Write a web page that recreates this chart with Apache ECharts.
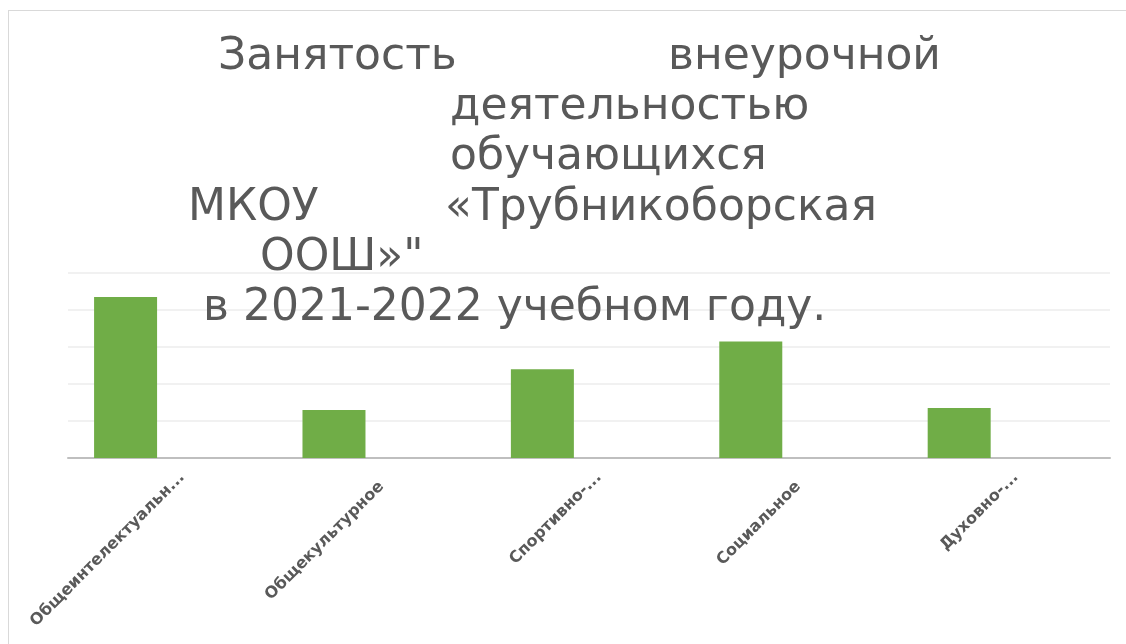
<!DOCTYPE html>
<html><head><meta charset="utf-8">
<script src="https://cdn.jsdelivr.net/npm/echarts@6/dist/echarts.min.js"></script>
<style>
html,body{margin:0;padding:0;background:#fff;width:1126px;height:644px;overflow:hidden}
#frame{position:absolute;left:8px;top:10px;width:1130px;height:660px;border:1px solid #d9d9d9;box-sizing:border-box}
#c{position:absolute;left:0;top:0;width:1126px;height:644px}
</style></head>
<body><div id="frame"></div><div id="c"></div>
<script>
const categories = ["Общеинтелектуальное", "Общекультурное", "Спортивно-оздоровительное", "Социальное", "Духовно-нравственное"];
const tickLabels = ["Общеинтелектуальн...", "Общекультурное", "Спортивно-...", "Социальное", "Духовно-..."];
const values = [43.5, 13, 24, 31.5, 13.5];
const emptySeries = ['-', '-', '-', '-', '-'];
const titleLines = [
  {text: "Занятость", left: 218, top: 36},
  {text: "внеурочной", left: 668, top: 36},
  {text: "деятельностью", left: 450, top: 86},
  {text: "обучающихся", left: 450, top: 136},
  {text: "МКОУ", left: 188, top: 187},
  {text: "«Трубникоборская", left: 445, top: 187},
  {text: "ООШ»\"", left: 260, top: 237},
  {text: "в 2021-2022 учебном году.", left: 203, top: 287}
];
const labelFont = {color: '#595959', fontFamily: 'DejaVu Sans', fontWeight: 'bold', fontSize: 16};
const chart = echarts.init(document.getElementById('c'), null, {renderer: 'canvas'});
chart.setOption({
  backgroundColor: 'transparent',
  animation: false,
  title: titleLines.map(t => ({
    text: t.text, left: t.left, top: t.top, padding: 0,
    textStyle: {fontFamily: 'DejaVu Sans', fontSize: 44, fontWeight: 'normal', color: '#595959'}
  })),
  grid: [
    {left: 68, right: 16, top: 273, bottom: 186, containLabel: false},
    {left: 78, right: 6, top: 273, bottom: 186, containLabel: false}
  ],
  xAxis: [
    {
      type: 'category', data: categories, gridIndex: 0,
      axisLine: {lineStyle: {color: '#bfbfbf', width: 2}},
      axisTick: {show: false},
      axisLabel: {show: false}
    },
    {
      type: 'category', data: categories, gridIndex: 1,
      axisLine: {show: false},
      axisTick: {show: false},
      axisLabel: Object.assign({
        rotate: 45, interval: 0, margin: 17,
        formatter: (v, i) => tickLabels[i].endsWith('...') ? '{t|' + tickLabels[i] + '}' : '{f|' + tickLabels[i] + '}',
        rich: {
          t: Object.assign({}, labelFont),
          f: Object.assign({padding: [0, 13, 0, 0]}, labelFont)
        }
      }, labelFont)
    }
  ],
  yAxis: [
    {
      type: 'value', min: 0, max: 50, interval: 10, gridIndex: 0,
      axisLabel: {show: false}, axisLine: {show: false}, axisTick: {show: false},
      splitLine: {lineStyle: {color: '#ededed', width: 1.5}}
    },
    {
      type: 'value', min: 0, max: 50, interval: 10, gridIndex: 1, show: false
    }
  ],
  series: [
    {type: 'bar', data: values, barWidth: 63, barGap: '48%', itemStyle: {color: '#70ad47'}, z: 1},
    {type: 'bar', data: emptySeries, barWidth: 63, itemStyle: {color: '#ed7d31'}}
  ]
});
</script></body></html>
